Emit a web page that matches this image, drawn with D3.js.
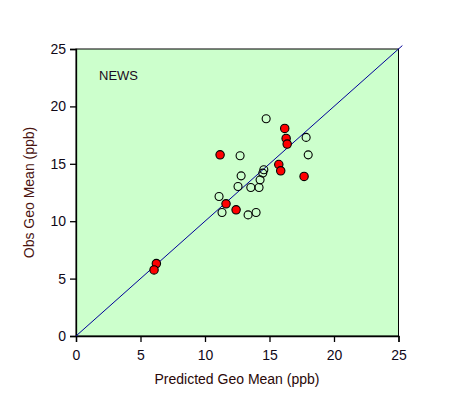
<!DOCTYPE html>
<html>
  <head>
    <script src="https://d3js.org/d3.v7.min.js"></script>
    <style>
      body, html { margin: 0; padding: 0; background: #fff; overflow: hidden; }
      text { font-family: "Liberation Sans", Arial, sans-serif; }
    </style>
  </head>
  <body>
    <svg id="chart" width="449" height="396"></svg>
    <script>
      // open circles
      var openX = [14.74, 17.84, 18.0, 12.72, 12.8, 14.56, 14.48, 14.27, 12.56, 13.55, 14.19, 11.09, 11.32, 13.34, 13.96];
      var openY = [18.92, 17.3, 15.78, 15.7, 13.95, 14.48, 14.19, 13.6, 13.02, 12.94, 12.94, 12.15, 10.76, 10.55, 10.76];
      // filled red
      var redX = [16.18, 16.29, 16.37, 11.17, 15.72, 15.87, 17.68, 11.63, 12.41, 6.23, 6.05];
      var redY = [18.08, 17.21, 16.72, 15.78, 14.94, 14.39, 13.9, 11.51, 10.99, 6.31, 5.76];
      var ticks = [0, 5, 10, 15, 20, 25];
      var lineEnd = 25.3;

      var svg = d3.select("#chart");
      var pLeft = 76, pRight = 398.5, pTop = 49, pBottom = 336;

      var x = d3.scaleLinear().domain([0, 25]).range([pLeft, pRight]);
      var y = d3.scaleLinear().domain([0, 25]).range([pBottom, pTop]);

      svg.append("rect")
        .attr("x", pLeft).attr("y", pTop)
        .attr("width", pRight - pLeft).attr("height", pBottom - pTop)
        .style("fill", "#ccffcc")
        .style("stroke", "#000")
        .style("stroke-width", 1);

      svg.append("g")
        .attr("transform", "translate(0," + pBottom + ")")
        .call(d3.axisBottom(x).tickValues(ticks).tickSize(6).tickPadding(8));
      svg.append("g")
        .attr("transform", "translate(" + pLeft + ",0)")
        .call(d3.axisLeft(y).tickValues(ticks).tickSize(6).tickPadding(4));

      svg.selectAll(".tick line, .domain").style("stroke", "#000").style("stroke-width", 1.3);
      svg.selectAll(".tick text")
        .style("font-family", "Liberation Sans, Arial, sans-serif")
        .style("font-size", "14px")
        .style("fill", "#100818");

      svg.append("line")
        .attr("x1", x(0)).attr("y1", y(0))
        .attr("x2", x(lineEnd)).attr("y2", y(lineEnd))
        .style("stroke", "#000099")
        .style("stroke-width", 1);

      var openPts = openX.map(function (d, i) { return [d, openY[i]]; });
      var redPts = redX.map(function (d, i) { return [d, redY[i]]; });

      svg.selectAll(".open")
        .data(openPts)
        .enter()
        .append("circle")
        .attr("class", "open")
        .attr("cx", function (d) { return x(d[0]); })
        .attr("cy", function (d) { return y(d[1]); })
        .attr("r", 4)
        .style("fill", "none")
        .style("stroke", "#000")
        .style("stroke-width", 1.1);

      svg.selectAll(".red")
        .data(redPts)
        .enter()
        .append("circle")
        .attr("class", "red")
        .attr("cx", function (d) { return x(d[0]); })
        .attr("cy", function (d) { return y(d[1]); })
        .attr("r", 4.2)
        .style("fill", "#ff0000")
        .style("stroke", "#000")
        .style("stroke-width", 1.1);

      svg.append("text")
        .attr("x", 99).attr("y", 80)
        .style("font-size", "13px")
        .style("fill", "#1a0a20")
        .text("NEWS");

      svg.append("text")
        .attr("x", 237).attr("y", 384)
        .attr("text-anchor", "middle")
        .style("font-size", "14px")
        .style("fill", "#2a0808")
        .text("Predicted Geo Mean (ppb)");

      svg.append("text")
        .attr("transform", "translate(34," + (pTop + pBottom) / 2 + ") rotate(-90)")
        .attr("text-anchor", "middle")
        .style("font-size", "14px")
        .style("fill", "#4a1410")
        .text("Obs Geo Mean (ppb)");
    </script>
  </body>
</html>
